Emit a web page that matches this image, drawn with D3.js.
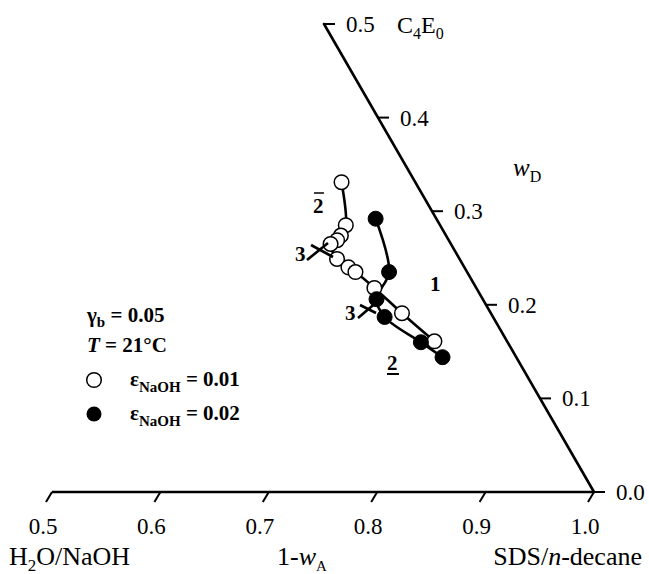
<!DOCTYPE html>
<html>
<head>
<meta charset="utf-8">
<style>
  body { margin:0; padding:0; background:#fff; overflow:hidden; }
  svg text { font-family: "Liberation Serif", "Times New Roman", serif; fill:#000; }
</style>
</head>
<body>
<div id="chart"></div>
<script src="https://cdn.jsdelivr.net/npm/d3@7"></script>
<script>
// ---- data (1-wA, wD) ----
var openA  = [0.932, 0.913, 0.903, 0.897, 0.889, 0.887, 0.893, 0.897, 0.906, 0.918, 0.933];
var openD  = [0.331, 0.285, 0.274, 0.269, 0.265, 0.249, 0.240, 0.235, 0.218, 0.191, 0.161];
var fillA  = [0.944, 0.928, 0.902, 0.900, 0.920, 0.932];
var fillD  = [0.292, 0.235, 0.206, 0.187, 0.160, 0.144];
var bottomTicks = [0.5, 0.6, 0.7, 0.8, 0.9, 1.0];
var rightTicks  = [0.0, 0.1, 0.2, 0.3, 0.4, 0.5];

var width = 649, height = 574;

// bottom axis 1-wA, slanted right axis wD
var x = d3.scaleLinear().domain([0.5, 1.0]).range([52, 594]);
var y = d3.scaleLinear().domain([0, 0.5]).range([492, 24]);
var shift = d3.scaleLinear().domain([0, 0.5]).range([0, 270]);   // how far left the wD axis leans
function px(a, d) { return x(a) - shift(d); }
function py(d) { return y(d); }

var svg = d3.select('#chart').append('svg')
    .attr('width', width).attr('height', height);

// ---- axes ----
svg.append('line')
    .attr('x1', x(0.5)).attr('y1', y(0)).attr('x2', x(1.0)).attr('y2', y(0))
    .style('stroke', '#000').style('stroke-width', 2.6);
svg.append('line')
    .attr('x1', px(1, 0)).attr('y1', py(0)).attr('x2', px(1, 0.5)).attr('y2', py(0.5))
    .style('stroke', '#000').style('stroke-width', 2.6).style('stroke-linecap', 'round');

svg.selectAll('.btick').data(bottomTicks).enter().append('line')
    .attr('x1', d => x(d)).attr('y1', y(0))
    .attr('x2', d => x(d) - 6).attr('y2', y(0) + 10)
    .style('stroke', '#000').style('stroke-width', 2);
svg.selectAll('.blab').data(bottomTicks).enter().append('text')
    .attr('x', d => x(d) - 9).attr('y', 534)
    .attr('text-anchor', 'middle').style('font-size', '23px')
    .text(d => d.toFixed(1));

svg.selectAll('.rtick').data(rightTicks).enter().append('line')
    .attr('x1', d => px(1, d)).attr('y1', d => py(d))
    .attr('x2', d => px(1, d) + 11).attr('y2', d => py(d))
    .style('stroke', '#000').style('stroke-width', 2);
svg.selectAll('.rlab').data(rightTicks).enter().append('text')
    .attr('x', d => px(1, d) + 22).attr('y', d => py(d) + 8)
    .style('font-size', '23px')
    .text(d => d.toFixed(1));

// axis names
var t = svg.append('text').attr('x', 9).attr('y', 565).style('font-size', '26px');
t.append('tspan').text('H');
t.append('tspan').attr('dy', 6).style('font-size', '17px').text('2');
t.append('tspan').attr('dy', -6).text('O/NaOH');

t = svg.append('text').attr('x', 277).attr('y', 565).style('font-size', '26px');
t.append('tspan').text('1-');
t.append('tspan').style('font-style', 'italic').text('w');
t.append('tspan').attr('dy', 6).style('font-size', '15px').text('A');

t = svg.append('text').attr('x', 642).attr('y', 565).attr('text-anchor', 'end').style('font-size', '26px');
t.append('tspan').text('SDS/');
t.append('tspan').style('font-style', 'italic').text('n');
t.append('tspan').text('-decane');

t = svg.append('text').attr('x', 397).attr('y', 33).style('font-size', '24px');
t.append('tspan').text('C');
t.append('tspan').attr('dy', 6).style('font-size', '16px').text('4');
t.append('tspan').attr('dy', -6).text('E');
t.append('tspan').attr('dy', 6).style('font-size', '16px').text('0');

t = svg.append('text').attr('x', 513).attr('y', 176).style('font-size', '25px');
t.append('tspan').style('font-style', 'italic').text('w');
t.append('tspan').attr('dy', 6).style('font-size', '16px').text('D');

// ---- curves ----
var line = d3.line()
    .x(d => px(d[0], d[1])).y(d => py(d[1]))
    .curve(d3.curveCatmullRom.alpha(0.5));

var openPts = openA.map((a, i) => [a, openD[i]]);
var fillPts = fillA.map((a, i) => [a, fillD[i]]);

svg.append('path').datum(openPts).attr('d', line)
    .style('fill', 'none').style('stroke', '#000').style('stroke-width', 2.6);
svg.append('path').datum(fillPts).attr('d', line)
    .style('fill', 'none').style('stroke', '#000').style('stroke-width', 2.6);

svg.selectAll('.op').data(openPts).enter().append('circle')
    .attr('cx', d => px(d[0], d[1])).attr('cy', d => py(d[1])).attr('r', 7.3)
    .style('fill', '#fff').style('stroke', '#000').style('stroke-width', 1.5);
svg.selectAll('.fp').data(fillPts).enter().append('circle')
    .attr('cx', d => px(d[0], d[1])).attr('cy', d => py(d[1])).attr('r', 7.5)
    .style('fill', '#000').style('stroke', '#000').style('stroke-width', 1);

// ---- three-phase crosses ----
var crosses = [
  [[307, 260], [328, 243], [311, 245], [333, 257]],
  [[358, 318], [378, 301], [360, 305], [376, 313]]
];
crosses.forEach(function(c) {
  svg.append('line').attr('x1', c[0][0]).attr('y1', c[0][1]).attr('x2', c[1][0]).attr('y2', c[1][1])
      .style('stroke', '#000').style('stroke-width', 2.6);
  svg.append('line').attr('x1', c[2][0]).attr('y1', c[2][1]).attr('x2', c[3][0]).attr('y2', c[3][1])
      .style('stroke', '#000').style('stroke-width', 2.6);
});

// ---- phase labels ----
function bold(xp, yp, s) {
  return svg.append('text').attr('x', xp).attr('y', yp)
      .style('font-size', '21px').style('font-weight', 'bold').text(s);
}
bold(313, 213, '2');
svg.append('line').attr('x1', 314).attr('y1', 193).attr('x2', 324).attr('y2', 193)
    .style('stroke', '#000').style('stroke-width', 1.5);
bold(295, 261, '3');
bold(345, 320, '3');
bold(430, 291, '1');
bold(387, 370, '2');
svg.append('line').attr('x1', 387).attr('y1', 374).attr('x2', 399).attr('y2', 374)
    .style('stroke', '#000').style('stroke-width', 2);

// ---- legend ----
t = svg.append('text').attr('x', 87).attr('y', 322).style('font-size', '21px').style('font-weight', 'bold');
t.append('tspan').text('γ');
t.append('tspan').attr('dy', 5).style('font-size', '15px').text('b');
t.append('tspan').attr('dy', -5).text(' = 0.05');

t = svg.append('text').attr('x', 87).attr('y', 352).style('font-size', '21px').style('font-weight', 'bold');
t.append('tspan').style('font-style', 'italic').text('T');
t.append('tspan').text(' = 21°C');

svg.append('circle').attr('cx', 94).attr('cy', 380).attr('r', 7.3)
    .style('fill', '#fff').style('stroke', '#000').style('stroke-width', 1.5);
svg.append('circle').attr('cx', 94).attr('cy', 414).attr('r', 7.5)
    .style('fill', '#000');

[['0.01', 386], ['0.02', 420]].forEach(function(e) {
  var tt = svg.append('text').attr('x', 130).attr('y', e[1]).style('font-size', '21px').style('font-weight', 'bold');
  tt.append('tspan').text('ε');
  tt.append('tspan').attr('dy', 6).style('font-size', '15px').text('NaOH');
  tt.append('tspan').attr('dy', -6).text(' = ' + e[0]);
});
</script>
</body>
</html>
